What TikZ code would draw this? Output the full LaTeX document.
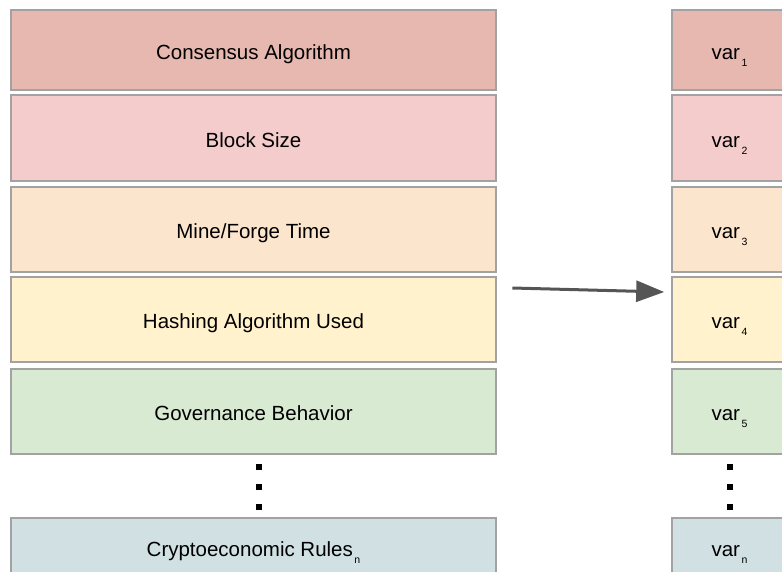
\documentclass[tikz,border=0pt]{standalone}
\usepackage{fontspec}
\setmainfont{Liberation Sans}
\usetikzlibrary{arrows.meta}

% fill colours of the rows
\definecolor{rowA}{HTML}{E6B8AF}
\definecolor{rowB}{HTML}{F4CCCC}
\definecolor{rowC}{HTML}{FCE5CD}
\definecolor{rowD}{HTML}{FFF2CC}
\definecolor{rowE}{HTML}{D9EAD3}
\definecolor{rowF}{HTML}{D0E0E3}
\definecolor{edgegray}{HTML}{A2A2A2}
\definecolor{arrowgray}{HTML}{555555}

% small lowered index after a word
\newcommand{\lowsub}[1]{\hspace{1.5pt}\raisebox{-7pt}[0pt][0pt]{\fontsize{10.5}{10}\selectfont #1}}

\tikzset{
  cell/.style={draw=edgegray, line width=1.6pt, inner sep=0pt,
    text height=18pt, text depth=0pt,
    font=\fontsize{20.5}{24}\selectfont, text=black},
  flow/.style={draw=arrowgray, line width=3pt,
    -{Triangle[length=28pt,width=21pt]}},
  dotmark/.style={fill=black}
}

\begin{document}
\begin{tikzpicture}[x=1pt,y=-1pt]
    \useasboundingbox (0,0) rectangle (782,571);

    % rows: top / bottom / colour / rule text / index
    \foreach \top/\bot/\col/\txt/\k in {
        10/90/rowA/{Consensus Algorithm}/1,
        95/181/rowB/{Block Size}/2,
        187/272/rowC/{Mine/Forge Time}/3,
        277/362/rowD/{Hashing Algorithm Used}/4,
        369/454/rowE/{Governance Behavior}/5,
        518/576/rowF/{Cryptoeconomic Rules\lowsub{n}}/n}{%
        % left column
        \node[cell, fill=\col, minimum width=485pt,
              minimum height={(\bot-\top)*1pt}] (rule\k)
              at (253.5,{(\top+\bot)/2}) {\txt};
        % right column (runs off the page)
        \node[cell, fill=\col, minimum width=115pt,
              minimum height={(\bot-\top)*1pt}] (var\k)
              at (729.5,{(\top+\bot)/2}) {var\lowsub{\k}};
    }

    % dots between row 5 and row n
    \foreach \y in {467,487,507}{%
        \fill[dotmark] (256,\y-3) rectangle ++(6,6);
        \fill[dotmark] (727,\y-3) rectangle ++(6,6);
    }

    % the arrow
    \draw[flow] ([xshift=15.5pt,yshift=31.5pt]rule4.east)
        -- ([xshift=-7pt,yshift=27.5pt]var4.west);

\end{tikzpicture}
\end{document}
